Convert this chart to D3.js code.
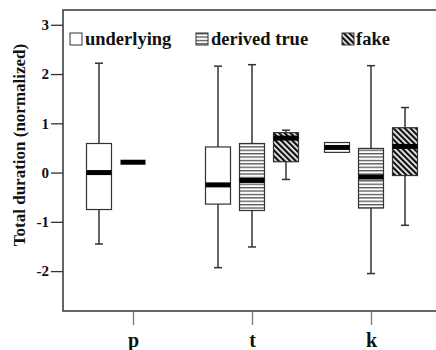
<!DOCTYPE html>
<html>
<head>
<meta charset="utf-8">
<script src="https://cdn.jsdelivr.net/npm/d3@7"></script>
<style>
  body { margin: 0; background: #fff; }
</style>
</head>
<body>
<svg id="chart"></svg>
<script>
const categories = ["p", "t", "k"];
const series = ["underlying", "derived true", "fake"];
const yTicks = [-2, -1, 0, 1, 2, 3];

// stats per series, one entry per category: [low, q1, median, q3, high]
const underlying = [
  [-1.45, -0.75, 0.0, 0.59, 2.22],
  [-1.93, -0.64, -0.25, 0.52, 2.16],
  [0.41, 0.41, 0.51, 0.61, 0.61]
];
const derivedTrue = [
  [0.21, 0.21, 0.21, 0.21, 0.21],
  [-1.51, -0.77, -0.16, 0.59, 2.19],
  [-2.05, -0.72, -0.09, 0.49, 2.17]
];
const fake = [
  null,
  [-0.14, 0.22, 0.70, 0.81, 0.86],
  [-1.07, -0.06, 0.53, 0.91, 1.32]
];

const width = 436, height = 350;
const m = { left: 63, top: 10, bottom: 311 };
const serif = "'Liberation Serif', 'Times New Roman', serif";

const svg = d3.select("#chart").attr("width", width).attr("height", height);

const defs = svg.append("defs");
const hp = defs.append("pattern").attr("id", "hstripe")
  .attr("patternUnits", "userSpaceOnUse").attr("width", 6).attr("height", 3.4);
hp.append("rect").attr("width", 6).attr("height", 3.4).attr("fill", "#fff");
hp.append("rect").attr("y", 0).attr("width", 6).attr("height", 1.3).attr("fill", "#555");

const dp = defs.append("pattern").attr("id", "dstripe")
  .attr("patternUnits", "userSpaceOnUse").attr("width", 4).attr("height", 4)
  .attr("patternTransform", "rotate(-45)");
dp.append("rect").attr("width", 4).attr("height", 4).attr("fill", "#fff");
dp.append("rect").attr("x", 0).attr("width", 2.3).attr("height", 4).attr("fill", "#111");

const fills = { "underlying": "#fff", "derived true": "url(#hstripe)", "fake": "url(#dstripe)" };

const x = d3.scalePoint().domain(categories).range([73.5, 430.5]).padding(0.5);
const xSub = d3.scaleBand().domain(series).range([-51, 51]);
const y = d3.scaleLinear().domain([-2.81, 3.3]).range([m.bottom, m.top]);

const boxW = 25, capW = 8;

// frame
svg.append("path")
  .attr("d", `M${width},${m.top}H${m.left}V${m.bottom}H${width}`)
  .attr("fill", "none").attr("stroke", "#333").attr("stroke-width", 1.5);

// y axis
const yAxis = svg.append("g").attr("transform", `translate(${m.left},0)`)
  .call(d3.axisLeft(y).tickValues(yTicks).tickSize(12).tickPadding(2).tickFormat(d => String(d)));
yAxis.select(".domain").remove();
yAxis.selectAll(".tick line").attr("stroke", "#333").attr("stroke-width", 1.3);
yAxis.selectAll("text").attr("font-size", 15).attr("fill", "#111");

// x axis
const xAxis = svg.append("g").attr("transform", `translate(0,${m.bottom})`)
  .call(d3.axisBottom(x).tickSize(14).tickPadding(8));
xAxis.select(".domain").remove();
xAxis.selectAll(".tick line").attr("stroke", "#777").attr("stroke-width", 1.3);
xAxis.selectAll("text").attr("font-size", 20).attr("fill", "#111");

// y label
svg.append("text")
  .attr("transform", `translate(25,145) rotate(-90)`)
  .attr("text-anchor", "middle").attr("font-size", 17).attr("fill", "#111")
  .text("Total duration (normalized)");

// boxes
const allSeries = { "underlying": underlying, "derived true": derivedTrue, "fake": fake };
const boxes = [];
series.forEach(s => categories.forEach((c, i) => {
  const v = allSeries[s][i];
  if (v) boxes.push({ s, c, low: v[0], q1: v[1], med: v[2], q3: v[3], high: v[4] });
}));

const g = svg.append("g").selectAll("g").data(boxes).join("g")
  .attr("transform", d => `translate(${x(d.c) + xSub(d.s) + xSub.bandwidth() / 2},0)`);

g.filter(d => d.high > d.q3).append("line")
  .attr("y1", d => y(d.q3)).attr("y2", d => y(d.high))
  .attr("stroke", "#333").attr("stroke-width", 1.5);
g.filter(d => d.low < d.q1).append("line")
  .attr("y1", d => y(d.q1)).attr("y2", d => y(d.low))
  .attr("stroke", "#333").attr("stroke-width", 1.5);
g.filter(d => d.high > d.q3).append("line")
  .attr("x1", -capW / 2).attr("x2", capW / 2)
  .attr("y1", d => y(d.high)).attr("y2", d => y(d.high))
  .attr("stroke", "#333").attr("stroke-width", 1.5);
g.filter(d => d.low < d.q1).append("line")
  .attr("x1", -capW / 2).attr("x2", capW / 2)
  .attr("y1", d => y(d.low)).attr("y2", d => y(d.low))
  .attr("stroke", "#333").attr("stroke-width", 1.5);

g.filter(d => d.q3 > d.q1).append("rect")
  .attr("x", -boxW / 2).attr("width", boxW)
  .attr("y", d => y(d.q3)).attr("height", d => y(d.q1) - y(d.q3))
  .attr("fill", d => fills[d.s]).attr("stroke", "#333").attr("stroke-width", 1.2);

g.append("line")
  .attr("x1", -boxW / 2).attr("x2", boxW / 2)
  .attr("y1", d => y(d.med)).attr("y2", d => y(d.med))
  .attr("stroke", "#000").attr("stroke-width", 5);

// legend
const legendX = [70, 196, 342];
const leg = svg.append("g").selectAll("g").data(series).join("g")
  .attr("transform", (d, i) => `translate(${legendX[i]},33)`);
leg.append("rect").attr("width", 12).attr("height", 12)
  .attr("fill", d => fills[d]).attr("stroke", "#333").attr("stroke-width", 1);
leg.append("text").attr("x", d => d === "fake" ? 14 : 15).attr("y", 12)
  .attr("font-size", 18.5).attr("fill", "#111").text(d => d);

svg.selectAll("text").style("font-family", serif).style("font-weight", "bold");
</script>
</body>
</html>
